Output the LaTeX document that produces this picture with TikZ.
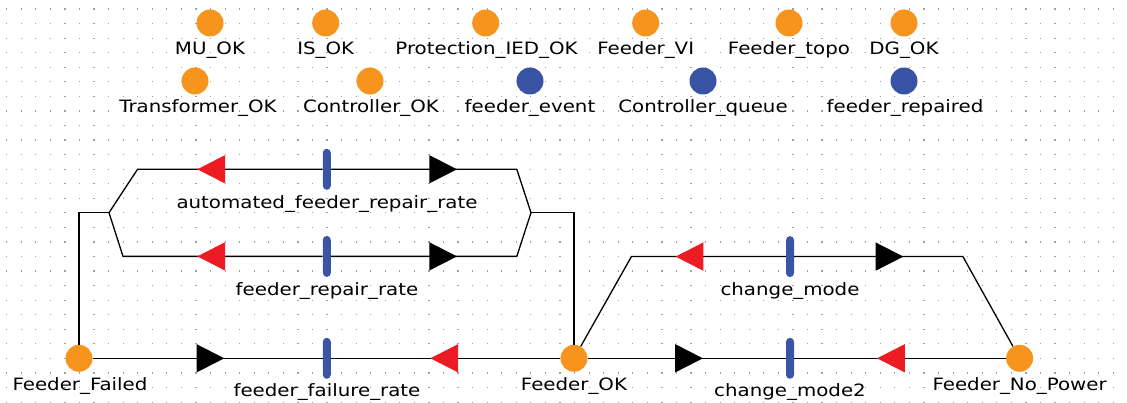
\documentclass[tikz,border=0pt]{standalone}
\usepackage{fontspec}
\setmainfont[FakeStretch=1.165]{DejaVu Sans}
\definecolor{plorange}{HTML}{F7941D}
\definecolor{plblue}{HTML}{3953A4}
\definecolor{trblue}{HTML}{3B55A5}
\definecolor{arred}{HTML}{ED1C24}
\definecolor{griddot}{HTML}{A0A0A0}
\begin{document}
\begin{tikzpicture}[x=1pt,y=-1pt,
  place/.style={circle,fill=plorange,minimum size=27pt,inner sep=0pt},
  bplace/.style={place,fill=plblue},
  trans/.style={rectangle,fill=trblue,minimum width=8pt,minimum height=41pt,rounded corners=4pt,inner sep=0pt},
  lbl/.style={anchor=base,inner sep=0pt,font=\fontsize{17}{20}\selectfont},
  arc/.style={draw=black,line width=1.3pt},
  lhead/.pic={\fill (0,0) -- (27.7,-14.15) -- (27.7,14.15) -- cycle;},
  rhead/.pic={\fill (0,0) -- (-27.7,-14.15) -- (-27.7,14.15) -- cycle;}]
\useasboundingbox (0,0) rectangle (1127,403);
% dotted background grid
\foreach \i in {0,...,77}{
  \foreach \j in {0,...,27}{
    \fill[griddot] ({6.1+\i*14.56},{8.4+\j*14.56}) rectangle ++(1.2,1.2);
  }
}
% top places, row 1
\node[place] (mu) at (210,23) {};
\node[lbl] (mul) at (210,55) {MU\_OK};
\node[place] (is) at (325.7,23) {};
\node[lbl] (isl) at (325.7,55) {IS\_OK};
\node[place] (pied) at (485.7,23) {};
\node[lbl] (piedl) at (486.5,55) {Protection\_IED\_OK};
\node[place] (fvi) at (645.7,23) {};
\node[lbl] (fvil) at (645.7,55) {Feeder\_VI};
\node[place] (ftopo) at (789,23) {};
\node[lbl] (ftopol) at (789,55) {Feeder\_topo};
\node[place] (dg) at (904,23) {};
\node[lbl] (dgl) at (904,55) {DG\_OK};
% row 2
\node[place] (tr) at (195,81) {};
\node[lbl] (trl) at (198,112.7) {Transformer\_OK};
\node[place] (ctl) at (370,81) {};
\node[lbl] (ctll) at (371,112.7) {Controller\_OK};
\node[bplace] (fev) at (530,81) {};
\node[lbl] (fevl) at (530,112.7) {feeder\_event};
\node[bplace] (cq) at (703,81) {};
\node[lbl] (cql) at (703,112.7) {Controller\_queue};
\node[bplace] (frep) at (904,81) {};
\node[lbl] (frepl) at (905,112.7) {feeder\_repaired};
% main places
\node[place] (ff) at (79,358.3) {};
\node[lbl] (ffl) at (80,390.7) {Feeder\_Failed};
\node[place] (fo) at (574,358.3) {};
\node[lbl] (fol) at (574,390.7) {Feeder\_OK};
\node[place] (fnp) at (1019.6,358.3) {};
\node[lbl] (fnpl) at (1019.6,390.7) {Feeder\_No\_Power};
% transitions
\node[trans] (t1) at (326.8,169.3) {};
\node[lbl] (t1l) at (327,208.3) {automated\_feeder\_repair\_rate};
\node[trans] (t2) at (326.8,256.4) {};
\node[lbl] (t2l) at (327,296) {feeder\_repair\_rate};
\node[trans] (t3) at (326.8,358.3) {};
\node[lbl] (t3l) at (327,396.7) {feeder\_failure\_rate};
\node[trans] (t4) at (790,256.6) {};
\node[lbl] (t4l) at (790,296) {change\_mode};
\node[trans] (t5) at (790,358.3) {};
\node[lbl] (t5l) at (790,396.7) {change\_mode2};
% junction coordinates
\coordinate (jl) at (109,212.7);
\coordinate (jr) at (531,212.7);
\coordinate (t1a) at (137.5,169.3);
\coordinate (t1b) at (516.8,169.3);
\coordinate (t2a) at (123,256.4);
\coordinate (t2b) at (516.8,256.4);
\coordinate (t4a) at (631.4,256.6);
\coordinate (t4b) at (962.9,256.6);
% arcs
\draw[arc] (ff) |- (jl);
\draw[arc] (jl) -- (t1a) -- (t1);
\draw[arc] (t1) -- (t1b) -- (jr);
\draw[arc] (jl) -- (t2a) -- (t2);
\draw[arc] (t2) -- (t2b) -- (jr);
\draw[arc] (jr) -| (fo);
\draw[arc] (ff) -- (t3);
\draw[arc] (t3) -- (fo);
\draw[arc] (fo) -- (t4a) -- (t4);
\draw[arc] (t4) -- (t4b) -- (fnp);
\draw[arc] (fo) -- (t5);
\draw[arc] (t5) -- (fnp);
% arrowheads
\path (t1) ++(-129.5,0) pic[fill=arred] {lhead};
\path (t1) ++(130.2,0) pic[fill=black] {rhead};
\path (t2) ++(-129.5,0) pic[fill=arred] {lhead};
\path (t2) ++(130.2,0) pic[fill=black] {rhead};
\path (t3) ++(-102.5,0) pic[fill=black] {rhead};
\path (t3) ++(103.6,0) pic[fill=arred] {lhead};
\path (t4) ++(-114.4,0) pic[fill=arred] {lhead};
\path (t4) ++(113.4,0) pic[fill=black] {rhead};
\path (t5) ++(-87.1,0) pic[fill=black] {rhead};
\path (t5) ++(87.1,0) pic[fill=arred] {lhead};
\end{tikzpicture}
\end{document}
